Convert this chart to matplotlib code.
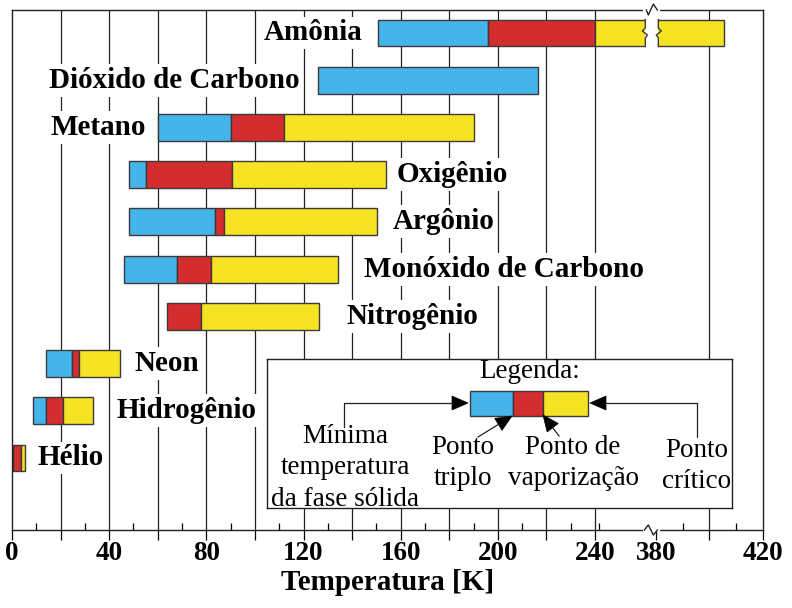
import numpy as np
import matplotlib.pyplot as plt
from matplotlib.patches import Rectangle, Polygon
from matplotlib.lines import Line2D

plt.rcParams['font.family'] = ['Liberation Serif', 'DejaVu Serif']

# data (temperatures in K, None = segment not present)
gases = ["Amônia", "Dióxido de Carbono", "Metano", "Oxigênio", "Argônio",
         "Monóxido de Carbono", "Nitrogênio", "Neon", "Hidrogênio", "Hélio"]
solid_min = [150.5, 126.0, 60.2, 48.2, 48.2, 46.2, None, 14.0, 8.7, None]
triple_pt = [195.9, 216.5, 90.3, 55.3, 83.7, 68.0, 63.9, 24.7, 14.2, 0.5]
vapor_pt = [240.0, None, 112.0, 90.7, 87.4, 82.0, 78.0, 27.6, 20.8, 3.6]
critical_pt = [405.4, None, 190.1, 153.8, 150.1, 134.0, 126.2, 44.4, 33.3, 5.2]
label_side = ["left", "left", "left", "right", "right",
              "right", "right", "right", "right", "right"]
label_gap = [15, 18, 12, 11, 16, 26, 28, 15, 24, 13]  # px between bar and text

tick_vals = [0, 40, 80, 120, 160, 200, 240, 380, 420]
grid_vals = [20, 40, 60, 80, 100, 120, 140, 160, 180, 200, 220, 240, 400]
minor_vals = [10, 30, 50, 70, 90, 110, 130, 150, 170, 190, 210, 230, 250, 390, 410]
BREAK_K = 372

BLUE = '#45b4ea'
RED = '#d42d2f'
YELLOW = '#f6e424'
EDGE = '#3a3a3a'


# broken axis: 0-240 linear, 240-380 squeezed, 380-420 linear
def fwd(k):
    k = np.asarray(k, float)
    return np.where(k <= 240, k,
                    np.where(k <= 380, 240 + (k - 240) * 25 / 140,
                             265 + (k - 380) * 1.103))


def inv(u):
    u = np.asarray(u, float)
    return np.where(u <= 240, u,
                    np.where(u <= 265, 240 + (u - 240) * 140 / 25,
                             380 + (u - 265) / 1.103))


W, H = 792, 608
fig = plt.figure(figsize=(W / 100, H / 100), dpi=100)
ax = fig.add_axes([12 / W, (H - 530) / H, (763 - 12) / W, (530 - 10) / H])
ax.set_xscale('function', functions=(fwd, inv))
ax.set_xlim(0, 420)
ax.set_ylim(10.525, -0.487)

for x in grid_vals:
    ax.axvline(x, color='#222222', lw=0.9, zorder=0)

bh = 0.57
for i, g in enumerate(gases):
    if solid_min[i] is not None:
        ax.barh(i, triple_pt[i] - solid_min[i], left=solid_min[i], height=bh,
                color=BLUE, edgecolor=EDGE, lw=1, zorder=2)
    if vapor_pt[i] is not None:
        ax.barh(i, vapor_pt[i] - triple_pt[i], left=triple_pt[i], height=bh,
                color=RED, edgecolor=EDGE, lw=1, zorder=2)
        ax.barh(i, critical_pt[i] - vapor_pt[i], left=vapor_pt[i], height=bh,
                color=YELLOW, edgecolor=EDGE, lw=1, zorder=2)
    starts = [v for v in (solid_min[i], triple_pt[i]) if v is not None]
    ends = [v for v in (critical_pt[i], triple_pt[i]) if v is not None]
    if label_side[i] == "left":
        xa, off, ha = min(starts), -label_gap[i], 'right'
    else:
        xa, off, ha = max(ends), label_gap[i], 'left'
    ax.annotate(g, (xa, i), xytext=(off * 0.72, 0), textcoords='offset points',
                ha=ha, va='center', fontsize=21, fontweight='bold', zorder=3,
                bbox=dict(boxstyle='square,pad=0.1', fc='white', ec='none'))

ax.set_yticks([])
major = grid_vals[:12] + [0, 380, 400, 420]
ax.set_xticks(major)
ax.set_xticklabels([str(v) if v in tick_vals else '' for v in major])
ax.set_xticks(minor_vals, minor=True)
ax.tick_params(axis='x', which='major', direction='out', length=7, width=0.9,
               pad=1, labelsize=19.5)
ax.tick_params(axis='x', which='minor', direction='in', length=5, width=0.9)
for lab in ax.get_xticklabels():
    lab.set_fontweight('bold')
ax.set_xlabel('Temperatura [K]', fontsize=21, fontweight='bold', labelpad=2)
for s in ax.spines.values():
    s.set_linewidth(1.0)
    s.set_color('#222222')

# break marks (drawn in pixel coordinates)
fig.canvas.draw()
xb = ax.transData.transform((BREAK_K, 0))[0]
y_bot = ax.transAxes.transform((0, 0))[1]
y_top = ax.transAxes.transform((0, 1))[1]
ident = plt.matplotlib.transforms.IdentityTransform()
for yy, pts in ((y_top, [(-6, 0), (-4, -5), (1, 6), (5, 0)]),
                (y_bot, [(-8, 0), (-4, 5), (1, -5), (5, 0)])):
    fig.add_artist(Line2D([xb - 7, xb + 6], [yy, yy], color='white', lw=3,
                          transform=ident, zorder=5))
    fig.add_artist(Line2D([xb + p[0] for p in pts], [yy + p[1] for p in pts],
                          color='#222222', lw=1.0, transform=ident, zorder=6))

bt = ax.transData.transform((0, -bh / 2))[1]
bb = ax.transData.transform((0, bh / 2))[1]
ym = (bt + bb) / 2
fig.add_artist(Rectangle((xb - 7, bb - 2), 13, bt - bb + 4, fc='white', ec='none',
                         transform=ident, zorder=5))
for x0, d in ((xb - 7, 1), (xb + 6, -1)):
    zx = [x0, x0, x0 - 3 * d, x0 + 2 * d, x0, x0]
    zy = [bt, ym + 5, ym + 2, ym - 2, ym - 5, bb]
    fig.add_artist(Line2D(zx, zy, color=EDGE, lw=1.0, transform=ident, zorder=6))

# legend box (coordinates in image pixels)
lx0, lx1, ly0, ly1 = 267, 732, 359, 508
lax = fig.add_axes([lx0 / W, (H - ly1) / H, (lx1 - lx0) / W, (ly1 - ly0) / H])
lax.set_xlim(lx0, lx1)
lax.set_ylim(ly1, ly0)
lax.set_xticks([])
lax.set_yticks([])
for s in lax.spines.values():
    s.set_linewidth(1.0)
    s.set_color('#222222')

for x0, x1, c in ((470, 513, BLUE), (513, 543, RED), (543, 588, YELLOW)):
    lax.add_patch(Rectangle((x0, 391), x1 - x0, 25, fc=c, ec=EDGE, lw=1))


def head(tail, tip, length=16, half=7):
    tail, tip = np.array(tail, float), np.array(tip, float)
    d = (tip - tail) / np.hypot(*(tip - tail))
    n = np.array([-d[1], d[0]])
    base = tip - d * length
    lax.add_patch(Polygon([tip, base + n * half, base - n * half], closed=True,
                          fc='black', ec='black', lw=0.5))
    return base


lax.plot([344, 344, 452], [427, 403, 403], color='#222222', lw=0.9)
head((344, 403), (468, 403))
lax.plot([697, 697, 606], [437, 403, 403], color='#222222', lw=0.9)
head((697, 403), (590, 403))
b = head((478, 437), (512, 416))
lax.plot([478, b[0]], [437, b[1]], color='#222222', lw=0.9)
b = head((559, 436), (543, 415))
lax.plot([559, b[0]], [436, b[1]], color='#222222', lw=0.9)

fs = 19.5
ls = 1.32
lax.text(530, 371, 'Legenda:', ha='center', va='center', fontsize=fs)
lax.text(345, 468, 'Mínima\ntemperatura\nda fase sólida', ha='center', va='center',
         fontsize=fs, linespacing=ls)
lax.text(463, 463, 'Ponto\ntriplo', ha='center', va='center', fontsize=fs, linespacing=ls)
lax.text(573, 463, 'Ponto de\nvaporização', ha='center', va='center', fontsize=fs,
         linespacing=ls)
lax.text(697, 466, 'Ponto\ncrítico', ha='center', va='center', fontsize=fs, linespacing=ls)

fig.savefig('out.png', dpi=100)
